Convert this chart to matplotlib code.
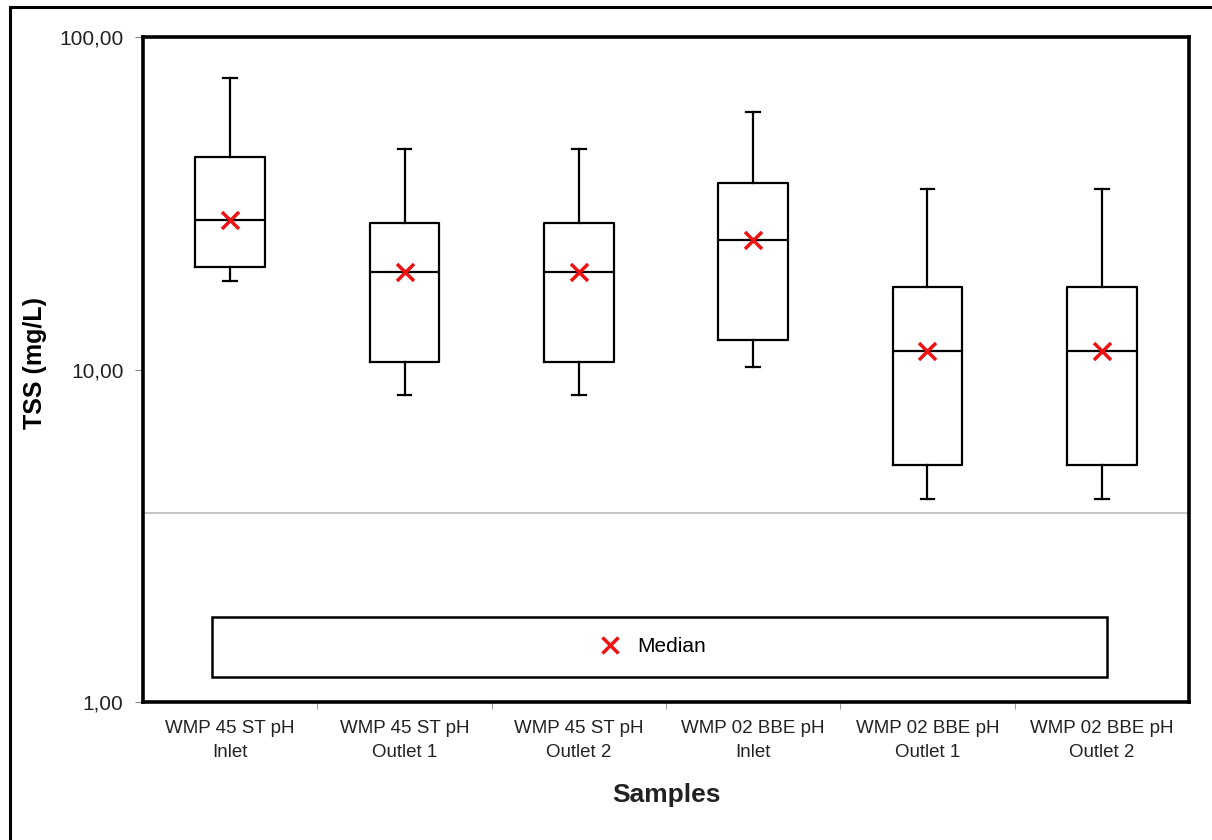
import matplotlib
matplotlib.use("Agg")
import matplotlib.pyplot as plt
from matplotlib.lines import Line2D
from matplotlib.patches import Rectangle
from matplotlib.ticker import FixedLocator, FuncFormatter, NullLocator

plt.rcParams.update({
    'font.family': ['Liberation Sans', 'DejaVu Sans'],
    'font.size': 13,
})

samples = ['WMP 45 ST pH\nInlet', 'WMP 45 ST pH\nOutlet 1', 'WMP 45 ST pH\nOutlet 2',
           'WMP 02 BBE pH\nInlet', 'WMP 02 BBE pH\nOutlet 1', 'WMP 02 BBE pH\nOutlet 2']
whisker_low = [18.4, 8.4, 8.4, 10.2, 4.08, 4.08]
q1 = [20.4, 10.5, 10.5, 12.3, 5.17, 5.17]
median = [28.2, 19.7, 19.7, 24.5, 11.4, 11.4]
q3 = [43.5, 27.5, 27.5, 36.4, 17.7, 17.7]
whisker_high = [75.3, 46.0, 46.0, 59.3, 34.9, 34.9]
ref_line = 3.7
y_ticks = [1, 10, 100]

stats = []
for i, name in enumerate(samples):
    stats.append({'label': name, 'whislo': whisker_low[i], 'q1': q1[i], 'med': median[i],
                  'q3': q3[i], 'whishi': whisker_high[i], 'fliers': []})

fig = plt.figure(figsize=(12.12, 8.4), dpi=100)
ax = fig.add_axes([143 / 1212, 138 / 840, 1046 / 1212, 665 / 840])

positions = list(range(1, len(samples) + 1))
line_kw = dict(color='black', linewidth=1.6)
ax.bxp(stats, positions=positions, widths=0.4, showfliers=False,
       boxprops=line_kw, whiskerprops=line_kw, capprops=line_kw,
       medianprops=line_kw, capwidths=0.08)
ax.scatter(positions, median, marker='x', color='#ee1111', s=150, linewidths=2.5, zorder=5)

ax.axhline(ref_line, color='#bbbbbb', linewidth=1.2, zorder=1)

ax.set_yscale('log')
ax.set_ylim(1, 100)
ax.set_xlim(0.5, len(samples) + 0.5)
ax.yaxis.set_major_locator(FixedLocator(y_ticks))
ax.yaxis.set_minor_locator(NullLocator())
ax.yaxis.set_major_formatter(FuncFormatter(lambda v, p: f"{v:.2f}".replace('.', ',')))

ax.set_xticks(positions)
ax.set_xticklabels(samples, fontsize=13.5, color='#222222', linespacing=1.55)
ax.set_xticks([p + 0.5 for p in positions[:-1]], minor=True)
ax.tick_params(axis='x', which='major', length=0, pad=13)
ax.tick_params(axis='x', which='minor', length=5, color='#888888')
ax.tick_params(axis='y', length=6, color='#888888', labelsize=15, labelcolor='#222222', pad=8)

for s in ax.spines.values():
    s.set_linewidth(2.6)

ax.set_ylabel('TSS (mg/L)', fontsize=18, fontweight='bold')
ax.yaxis.set_label_coords(-0.092, 0.51)
ax.set_xlabel('Samples', fontsize=19, fontweight='bold', labelpad=16, color='#222222')

# legend box
ax.add_patch(Rectangle((0.066, 0.038), 0.856, 0.09, transform=ax.transAxes,
                       facecolor='white', edgecolor='black', linewidth=1.8, zorder=6))
handle = Line2D([], [], marker='x', color='#ee1111', linestyle='none', markersize=12,
                markeredgewidth=2.5)
ax.legend([handle], ['Median'], loc='center', bbox_to_anchor=(0.482, 0.083),
          frameon=False, fontsize=15, handletextpad=0.3).set_zorder(7)

# outer frame (top and left edges visible)
fig.add_artist(Line2D([10 / 1212, 1.0], [1 - 7 / 840, 1 - 7 / 840], color='black', linewidth=2.2))
fig.add_artist(Line2D([10 / 1212, 10 / 1212], [0.0, 1 - 7 / 840], color='black', linewidth=2.2))

fig.savefig('out.png', dpi=100, facecolor='white')
